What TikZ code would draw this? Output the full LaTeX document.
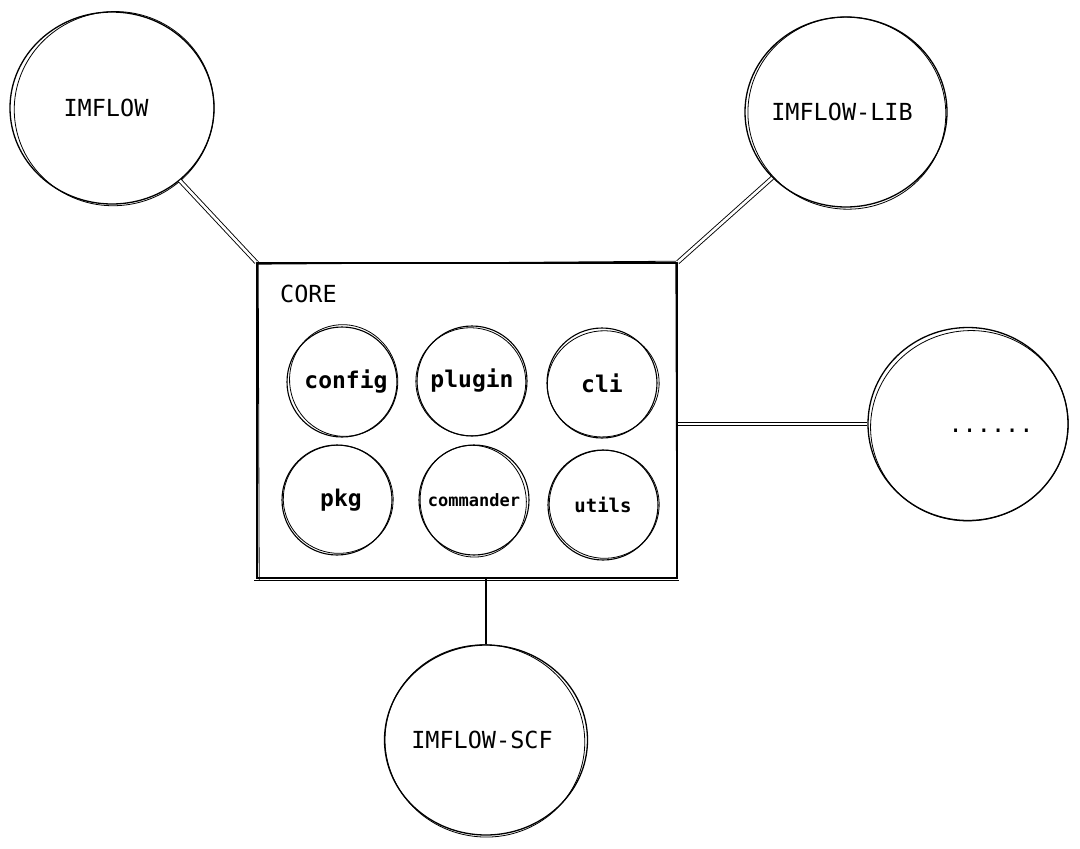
\documentclass[tikz,border=0pt]{standalone}
\usepackage{fontspec}
\setmonofont{DejaVu Sans Mono}
\usetikzlibrary{shapes.geometric}
\newcommand\skring[6]{%
  \draw[sketch, rotate around={#4:(#1.center)}] ([shift={(#5,#6)}]#1.center) ellipse [x radius=#2pt, y radius=#3pt];}
\newcommand\zw[1]{\makebox[0pt]{#1}}
\begin{document}
\begin{tikzpicture}[x=1pt,y=-1pt,
  bubble/.style={ellipse, draw, line width=1.3pt, inner sep=0pt,
    font=\ttfamily\fontsize{23.5}{28}\selectfont},
  inner/.style={ellipse, draw, line width=1.1pt, inner sep=0pt,
    minimum width=110pt, minimum height=110pt,
    font=\ttfamily\bfseries\fontsize{23}{28}\selectfont},
  label/.style={inner sep=0pt, font=\ttfamily\fontsize{23.5}{28}\selectfont},
  sketch/.style={line width=0.8pt},
  boxstyle/.style={draw, line width=1.6pt, inner sep=0pt, minimum width=420pt, minimum height=315pt},
  link/.style={double, double distance=2.6pt, line width=0.9pt},
  single/.style={line width=1.2pt}]
\useasboundingbox (0,0) rectangle (1080,849);

% outer circles
\node[bubble, minimum width=204pt, minimum height=192pt] (imflow) at (112,108) {\zw{IMFLOW\hspace{12pt}}};
\skring{imflow}{100}{97}{10}{2}{1}
\node[bubble, minimum width=202pt, minimum height=190pt] (lib) at (846,112) {\zw{IMFLOW-LIB\hspace{8pt}}};
\skring{lib}{99}{96}{-8}{1}{1}
\node[bubble, minimum width=200pt, minimum height=193pt] (more) at (968,424) {};
\skring{more}{99}{95}{12}{1}{2}
\node[label] (moretext) at (991,431) {......};
\node[bubble, minimum width=203pt, minimum height=190pt] (scf) at (486,740) {\zw{IMFLOW-SCF\hspace{8pt}}};
\skring{scf}{100}{96}{-10}{-1}{1}

% core box
\node[boxstyle] (core) at (467,420.5) {};
\draw[sketch] ([shift={(1,2)}]core.north west) -- ([shift={(-2,-1)}]core.north east);
\draw[sketch] ([shift={(-2,2)}]core.south west) -- ([shift={(1,2)}]core.south east);
\draw[sketch] ([shift={(2,-1)}]core.north west) -- ([shift={(3,1)}]core.south west);
\draw[sketch] ([shift={(-2,2)}]core.north east) -- ([shift={(-1,-1)}]core.south east);
\node[label, anchor=west] (coretext) at (280,294) {CORE};

% inner circles
\node[inner] (config) at (342,382) {\zw{\hspace{8pt}config}};
\skring{config}{54}{56}{15}{2}{-1}
\node[inner] (plugin) at (472,381) {\zw{plugin}};
\skring{plugin}{55}{54}{-12}{-1}{1}
\node[inner] (cli) at (602,383) {\zw{cli}};
\skring{cli}{56}{53}{10}{1}{1}
\node[inner] (pkg) at (337,500) {\zw{\hspace{8pt}pkg}};
\skring{pkg}{55}{54}{-15}{1}{-1}
\node[inner, font=\ttfamily\bfseries\fontsize{17}{20}\selectfont] (commander) at (474,500) {\zw{commander}};
\skring{commander}{53}{56}{12}{-1}{1}
\node[inner, font=\ttfamily\bfseries\fontsize{19}{22}\selectfont] (utils) at (603,505) {\zw{utils}};
\skring{utils}{55}{54}{-10}{1}{-1}

% connectors
\draw[link] (imflow) -- (core.north west);
\draw[link] (lib) -- (core.north east);
\draw[link] (core.east |- more.west) -- (more.west);
\draw[single] (core.south -| scf.north) -- (scf.north);
\end{tikzpicture}
\end{document}
